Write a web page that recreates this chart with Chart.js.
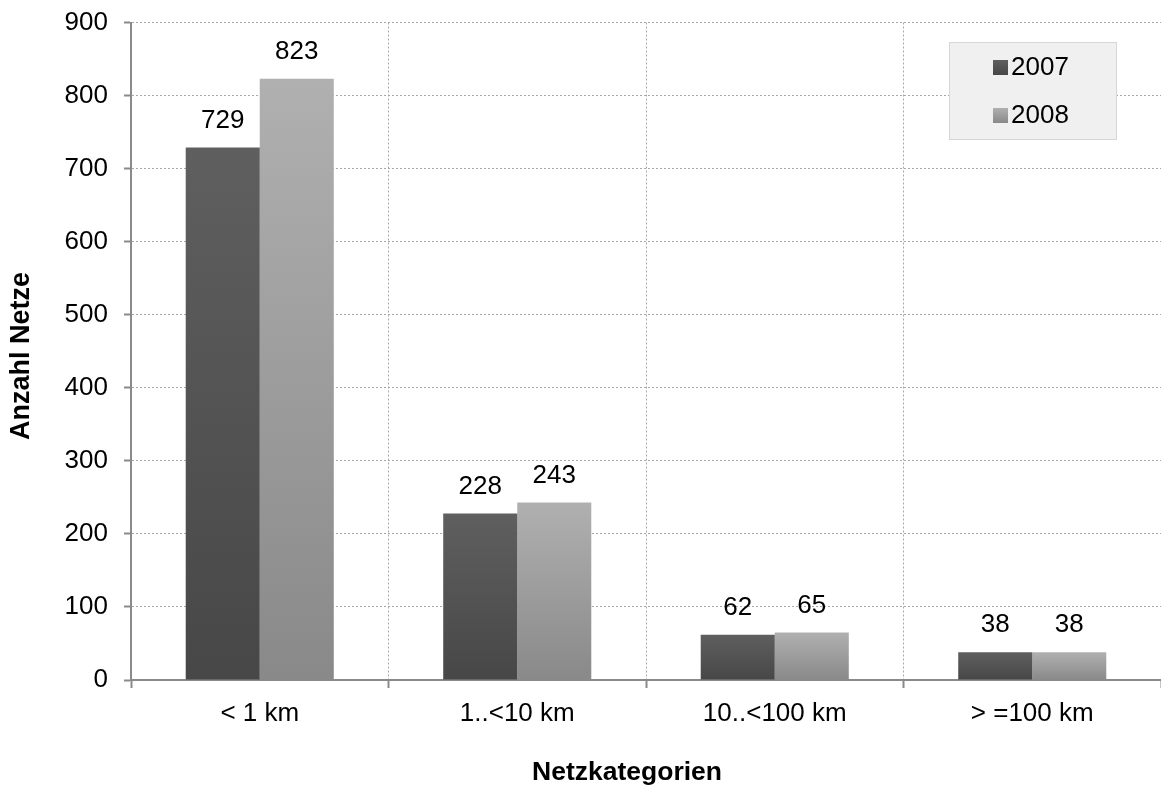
<!DOCTYPE html>
<html>
<head>
<meta charset="utf-8">
<script src="https://cdn.jsdelivr.net/npm/chart.js@4/dist/chart.umd.min.js"></script>
<style>
html,body{margin:0;padding:0;background:#fff;}
#wrap{width:1161px;height:785px;position:relative;}
</style>
</head>
<body>
<div id="wrap"><canvas id="c"></canvas></div>
<script>
const categories = ['< 1 km', '1..<10 km', '10..<100 km', '> =100 km'];
const seriesNames = ['2007', '2008'];
const values2007 = [729, 228, 62, 38];
const values2008 = [823, 243, 65, 38];
const yTicks = [0, 100, 200, 300, 400, 500, 600, 700, 800, 900];
const xTitle = 'Netzkategorien';
const yTitle = 'Anzahl Netze';

const FONT = '"Liberation Sans", Arial, sans-serif';
const gradStops = [['#5f5f5f', '#474747'], ['#b0b0b0', '#898989']];

function barGradient(ctx) {
  const chart = ctx.chart;
  const ds = ctx.datasetIndex;
  const stops = gradStops[ds];
  if (!chart.chartArea || ctx.type !== 'data') return stops[1];
  const y = chart.scales.y;
  const v = chart.data.datasets[ds].data[ctx.dataIndex];
  const top = y.getPixelForValue(v);
  const base = y.getPixelForValue(0);
  const g = chart.ctx.createLinearGradient(0, top, 0, base);
  g.addColorStop(0, stops[0]);
  g.addColorStop(1, stops[1]);
  return g;
}

const valueLabels = {
  id: 'valueLabels',
  afterDatasetsDraw(chart) {
    const c = chart.ctx;
    c.save();
    c.font = '26px ' + FONT;
    c.fillStyle = '#000';
    c.textAlign = 'center';
    c.textBaseline = 'middle';
    chart.data.datasets.forEach((ds, i) => {
      chart.getDatasetMeta(i).data.forEach((el, j) => {
        c.fillText(String(ds.data[j]), el.x, el.y - 27);
      });
    });
    c.restore();
  }
};

const axisTitles = {
  id: 'axisTitles',
  afterDraw(chart) {
    const c = chart.ctx;
    c.save();
    c.fillStyle = '#000';
    c.textAlign = 'center';
    c.textBaseline = 'middle';
    c.font = 'bold 26.5px ' + FONT;
    c.fillText(xTitle, 627, 773);
    c.translate(22, 356);
    c.rotate(-Math.PI / 2);
    c.font = 'bold 27px ' + FONT;
    c.fillText(yTitle, 0, 0);
    c.restore();
  }
};

const boxLegend = {
  id: 'boxLegend',
  afterDraw(chart) {
    const c = chart.ctx;
    c.save();
    const bx = 949.5, by = 42.5, bw = 167, bh = 97;
    c.fillStyle = '#f0f0f0';
    c.fillRect(bx, by, bw, bh);
    c.strokeStyle = '#d6d6d6';
    c.lineWidth = 1;
    c.strokeRect(bx, by, bw, bh);
    c.font = '26px ' + FONT;
    c.textBaseline = 'middle';
    c.textAlign = 'left';
    chart.data.datasets.forEach((ds, i) => {
      const cy = 67 + i * 48;
      const g = c.createLinearGradient(0, cy - 7, 0, cy + 8);
      g.addColorStop(0, gradStops[i][0]);
      g.addColorStop(1, gradStops[i][1]);
      c.fillStyle = g;
      c.fillRect(993, cy - 7, 15, 15);
      c.fillStyle = '#000';
      c.fillText(ds.label, 1011, cy + 1);
    });
    c.restore();
  }
};

new Chart(document.getElementById('c'), {
  type: 'bar',
  data: {
    labels: categories,
    datasets: [
      { label: seriesNames[0], data: values2007, backgroundColor: barGradient, borderWidth: 0 },
      { label: seriesNames[1], data: values2008, backgroundColor: barGradient, borderWidth: 0 }
    ]
  },
  options: {
    responsive: true,
    maintainAspectRatio: false,
    animation: false,
    events: [],
    layout: { padding: { top: 21, right: 0, left: 0, bottom: 0 } },
    datasets: { bar: { categoryPercentage: 0.575, barPercentage: 1.0 } },
    plugins: { legend: { display: false }, tooltip: { enabled: false } },
    scales: {
      x: {
        grid: {
          offset: true,
          color: '#a8a8a8',
          lineWidth: 1,
          drawTicks: true,
          tickLength: 8,
          tickColor: '#8a8a8a',
          tickWidth: 2
        },
        border: { display: true, color: '#8a8a8a', width: 2, dash: [2, 2] },
        ticks: { color: '#000', font: { family: FONT, size: 26, lineHeight: 1.2 }, padding: 10, maxRotation: 0, autoSkip: false },
        title: { display: false },
        afterFit(s) { s.height = 105; }
      },
      y: {
        min: 0,
        max: 900,
        afterBuildTicks(s) { s.ticks = yTicks.map(v => ({ value: v })); },
        grid: {
          color: '#a8a8a8',
          lineWidth: 1,
          drawTicks: true,
          tickLength: 7,
          tickColor: '#8a8a8a',
          tickWidth: 2
        },
        border: { display: true, color: '#8a8a8a', width: 2, dash: [2, 2] },
        ticks: { color: '#000', font: { family: FONT, size: 26, lineHeight: 0.5 }, padding: 16 },
        title: { display: false },
        afterFit(s) { s.width = 131; }
      }
    }
  },
  plugins: [valueLabels, axisTitles, boxLegend]
});
</script>
</body>
</html>
